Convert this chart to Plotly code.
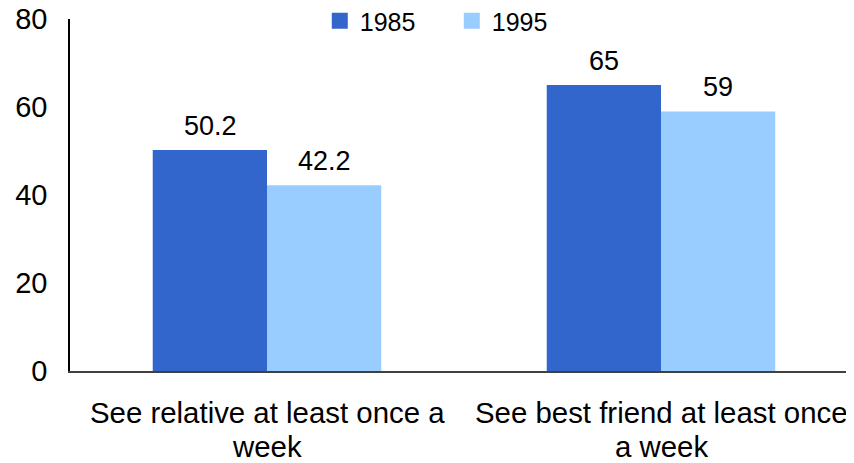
import plotly.graph_objects as go

categories = ["See relative at least once a<br>week", "See best friend at least once<br>a week"]
series_names = ["1985", "1995"]
values_1985 = [50.2, 65]
values_1995 = [42.2, 59]
value_labels_1985 = ["50.2", "65"]
value_labels_1995 = ["42.2", "59"]
colors = ["#3366CC", "#99CCFF"]
y_ticks = [0, 20, 40, 60, 80]

FONT = "Liberation Sans, Arial, sans-serif"
BAR_HALF_PX = 57
CAT_LINE_SHIFTS = [-41.5, -75.5]

fig = go.Figure()
for i, (name, vals, labels, col) in enumerate(zip(series_names, [values_1985, values_1995],
                                   [value_labels_1985, value_labels_1995], colors)):
    fig.add_trace(go.Bar(
        x=categories, y=vals, name=name, marker_color=col, marker_line_width=0,
        showlegend=False,
    ))
    fig.add_trace(go.Scatter(
        x=[None], y=[None], mode="markers", name=name,
        marker=dict(symbol="square", size=17, color=col),
    ))
    shift = -BAR_HALF_PX if i == 0 else BAR_HALF_PX
    for c, v, t in zip(categories, vals, labels):
        fig.add_annotation(x=c, y=v, text=t, showarrow=False, xref="x", yref="y",
                           yanchor="bottom", xshift=shift, yshift=7,
                           font=dict(size=27, color="black", family=FONT))

# category labels, one annotation per text line (tighter line spacing than tick labels)
for c in categories:
    for line, ys in zip(c.split("<br>"), CAT_LINE_SHIFTS):
        fig.add_annotation(x=c, y=0, xref="x", yref="paper", text=line, showarrow=False,
                           yanchor="middle", yshift=ys,
                           font=dict(size=29.4, color="black", family=FONT))

fig.update_layout(
    width=854, height=463,
    margin=dict(l=62, r=4, t=11, b=100, autoexpand=False),
    paper_bgcolor="white", plot_bgcolor="white",
    font=dict(family=FONT, size=26, color="black"),
    barmode="group", bargap=0.42, bargroupgap=0,
    legend=dict(orientation="h", x=0.317, xanchor="left", y=0.994, yanchor="middle",
                font=dict(size=25), bgcolor="rgba(0,0,0,0)", itemwidth=30,
                entrywidth=87, entrywidthmode="pixels", tracegroupgap=0),
)
fig.update_yaxes(range=[0, 80], tickvals=y_ticks, showgrid=False, zeroline=False,
                 showline=True, linecolor="black", linewidth=1.5, ticks="",
                 tickfont=dict(size=29), ticklabelstandoff=15, automargin=False,
                 ticklabeloverflow="allow")
fig.update_xaxes(showline=True, linecolor="#404040", linewidth=2, ticks="",
                 showticklabels=False, automargin=False)

fig.write_html("out.html")
